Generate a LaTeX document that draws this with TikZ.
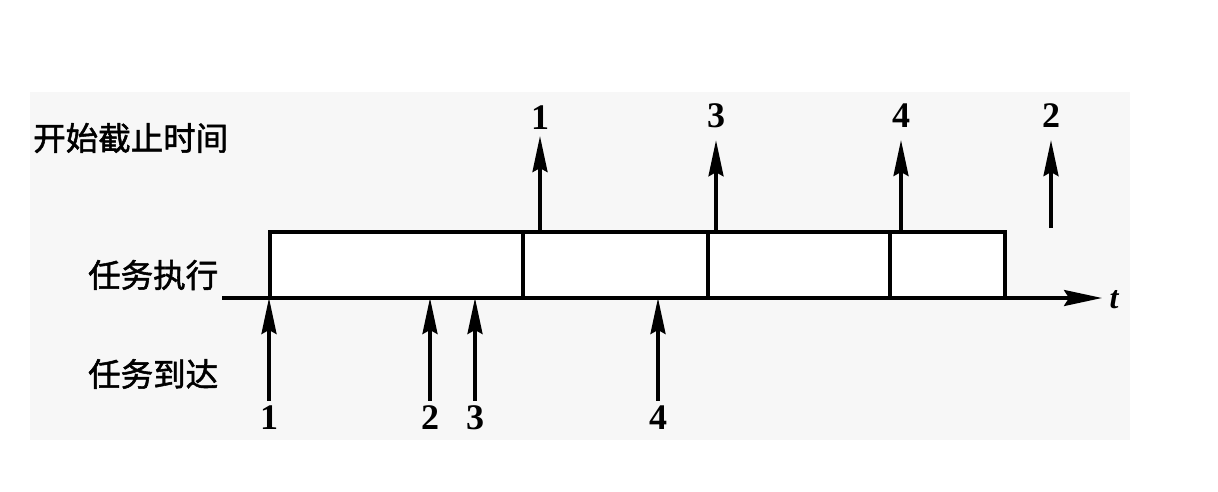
\documentclass[tikz,border=0pt]{standalone}
\usepackage{fontspec}
\setmainfont{Liberation Serif}
\newfontfamily\cjk{Noto Sans CJK SC}[FakeBold=1.6]
\usetikzlibrary{arrows.meta}
\begin{document}
\begin{tikzpicture}[x=1pt,y=-1pt,
  line/.style={line width=3.4pt},
  arr/.style={line width=3.2pt,-{Stealth[length=36pt,width=15pt,inset=4pt]}},
  num/.style={font=\fontsize{36}{36}\selectfont\bfseries,inner sep=0pt},
  lab/.style={font=\cjk\fontsize{32.5}{33}\selectfont,inner sep=0pt,anchor=west},
  seg/.style={line width=3.4pt,fill=white}]
\useasboundingbox (0,0) rectangle (1218,492);
\fill[gray!6] (30,92) rectangle (1130,440);
% left labels
\node[lab] (ldl) at (33,138) {开始截止时间};
\node[lab] (lex) at (88,275) {任务执行};
\node[lab] (lar) at (88,374) {任务到达};
% execution segments
\coordinate (b0) at (270,232);
\coordinate (b1) at (523,298);
\coordinate (c0) at (523,232);
\coordinate (c1) at (708,298);
\coordinate (e0) at (708,232);
\coordinate (e1) at (890,298);
\coordinate (f0) at (890,232);
\coordinate (f1) at (1005,298);
\draw[seg] (b0) rectangle (b1);
\draw[seg] (c0) rectangle (c1);
\draw[seg] (e0) rectangle (e1);
\draw[seg] (f0) rectangle (f1);
% time axis
\coordinate (t0) at (222,298);
\coordinate (t1) at (1102,298);
\draw[line,-{Stealth[length=38pt,width=16pt,inset=5pt]}] (t0) -- (t1);
\node[font=\fontsize{32}{32}\selectfont\bfseries\itshape,inner sep=0pt] (tl) at (1114,300) {t};
% deadlines
\node[num] (dn1) at (540,118) {1};
\node[num] (dn3) at (716,116) {3};
\node[num] (dn4) at (901,116) {4};
\node[num] (dn2) at (1051,116) {2};
\coordinate (d1) at (540,232);
\coordinate (d3) at (716,232);
\coordinate (d4) at (901,232);
\coordinate (d2) at (1051,228);
\draw[arr] (d1) -- ([yshift=-6pt]dn1.south);
\draw[arr] (d3) -- ([yshift=-12pt]dn3.south);
\draw[arr] (d4) -- ([yshift=-12pt]dn4.south);
\draw[arr] (d2) -- ([yshift=-12pt]dn2.south);
% arrivals
\node[num] (an1) at (269,418) {1};
\node[num] (an2) at (430,418) {2};
\node[num] (an3) at (475,418) {3};
\node[num] (an4) at (658,418) {4};
\coordinate (a1) at (269,298);
\coordinate (a2) at (430,298);
\coordinate (a3) at (475,298);
\coordinate (a4) at (658,298);
\draw[arr] ([yshift=5pt]an1.north) -- (a1);
\draw[arr] ([yshift=5pt]an2.north) -- (a2);
\draw[arr] ([yshift=5pt]an3.north) -- (a3);
\draw[arr] ([yshift=5pt]an4.north) -- (a4);
\end{tikzpicture}
\end{document}
